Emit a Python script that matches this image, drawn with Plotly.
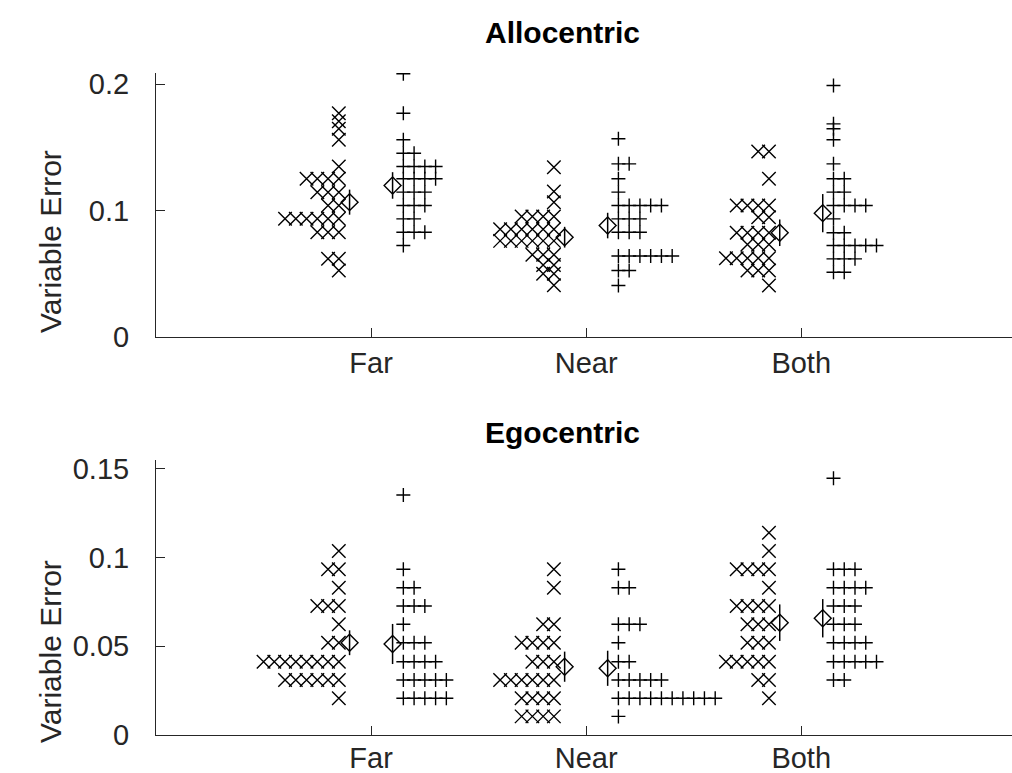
import plotly.graph_objects as go

# ---------------- data ----------------
categories = ["Far", "Near", "Both"]
cat_pos = [1, 2, 3]

# Allocentric, "x" group (left) and "+" group (right), per category
allo_far_x = [0.1769, 0.1706, 0.1646, 0.1559, 0.1348] + [0.1251]*4 + [0.1145]*3 + [0.1040]*2 + [0.0934]*6 + [0.0828]*3 + [0.0618]*2 + [0.0526]
allo_far_p = [0.2081, 0.1769, 0.1559] + [0.1453]*2 + [0.1348]*4 + [0.1251]*4 + [0.1145]*3 + [0.1040]*3 + [0.0934]*2 + [0.0828]*3 + [0.0723]
allo_near_x = [0.1342, 0.1150, 0.1065] + [0.0953]*4 + [0.0852]*6 + [0.0760]*6 + [0.0650]*3 + [0.0570]*2 + [0.0500]*2 + [0.0410]
allo_near_p = [0.1567] + [0.1369]*2 + [0.1251, 0.1145] + [0.1040]*5 + [0.0934]*3 + [0.0828]*3 + [0.0640]*6 + [0.0526]*2 + [0.0407]
allo_both_x = [0.1466]*2 + [0.1251] + [0.1040]*4 + [0.0947]*2 + [0.0824]*4 + [0.0731]*3 + [0.0623]*5 + [0.0526]*3 + [0.0407]
allo_both_p = [0.1988, 0.1685, 0.1646, 0.1559, 0.1369] + [0.1251]*2 + [0.1145]*2 + [0.1040]*4 + [0.0934] + [0.0824]*2 + [0.0723]*5 + [0.0618]*3 + [0.0512]*2

# Egocentric
ego_far_x = [0.1037] + [0.0934]*2 + [0.0830] + [0.0727]*3 + [0.0624] + [0.0520]*2 + [0.0413]*8 + [0.0310]*6 + [0.0207]
ego_far_p = [0.1353, 0.0934] + [0.0830]*2 + [0.0727]*3 + [0.0624] + [0.0520]*3 + [0.0413]*4 + [0.0310]*5 + [0.0207]*5
ego_near_x = [0.0934, 0.0830] + [0.0624]*2 + [0.0520]*4 + [0.0413]*3 + [0.0310]*6 + [0.0207]*4 + [0.0105]*4
ego_near_p = [0.0934] + [0.0830]*2 + [0.0624]*3 + [0.0520] + [0.0413]*2 + [0.0310]*5 + [0.0207]*10 + [0.0105]
ego_both_x = [0.1140, 0.1037] + [0.0934]*4 + [0.0830] + [0.0727]*4 + [0.0624]*3 + [0.0520]*3 + [0.0413]*5 + [0.0310]*2 + [0.0207]
ego_both_p = [0.1447] + [0.0934]*3 + [0.0830]*4 + [0.0727]*3 + [0.0624]*3 + [0.0520]*4 + [0.0413]*5 + [0.0310]*2

# means and standard errors read from the diamonds / bars
allo_mean_x = [0.1066, 0.0789, 0.0824]
allo_se_x = [0.0099, 0.0082, 0.0105]
allo_mean_p = [0.1198, 0.0881, 0.0979]
allo_se_p = [0.0105, 0.0101, 0.0151]
ego_mean_x = [0.0520, 0.0385, 0.0633]
ego_se_x = [0.0070, 0.0085, 0.0103]
ego_mean_p = [0.0513, 0.0376, 0.0658]
ego_se_p = [0.0113, 0.0099, 0.0108]

y_ticks_allo = [0, 0.1, 0.2]
y_ticks_ego = [0, 0.05, 0.1, 0.15]

# ---------------- helpers ----------------
GROUP_OFF = 0.15
MEAN_OFF = 0.10
STEP = 0.05
INK = "#000000"
AX = "#262626"


def swarm(values, center, direction):
    counts = {}
    xs = []
    for v in values:
        k = counts.get(v, 0)
        counts[v] = k + 1
        xs.append(center + direction * k * STEP)
    return xs


fig = go.Figure()


def add_panel(groups_x, groups_p, mean_x, se_x, mean_p, se_p, xa, ya):
    for i, pos in enumerate(cat_pos):
        vx = groups_x[i]
        vp = groups_p[i]
        fig.add_trace(go.Scatter(
            x=swarm(vx, pos - GROUP_OFF, -1), y=vx, mode="markers",
            marker=dict(symbol="x-thin", size=13.5, color=INK,
                        line=dict(width=1.4, color=INK)),
            xaxis=xa, yaxis=ya, hoverinfo="skip"))
        fig.add_trace(go.Scatter(
            x=swarm(vp, pos + GROUP_OFF, 1), y=vp, mode="markers",
            marker=dict(symbol="cross-thin", size=10, color=INK,
                        line=dict(width=1.4, color=INK)),
            xaxis=xa, yaxis=ya, hoverinfo="skip"))
    fig.add_trace(go.Scatter(
        x=[p - MEAN_OFF for p in cat_pos], y=mean_x, mode="markers",
        marker=dict(symbol="diamond-open", size=13, color=INK,
                    line=dict(width=1.4, color=INK)),
        error_y=dict(type="data", array=se_x, visible=True, width=0,
                     thickness=1.5, color=INK),
        xaxis=xa, yaxis=ya, hoverinfo="skip"))
    fig.add_trace(go.Scatter(
        x=[p + MEAN_OFF for p in cat_pos], y=mean_p, mode="markers",
        marker=dict(symbol="diamond-open", size=13, color=INK,
                    line=dict(width=1.4, color=INK)),
        error_y=dict(type="data", array=se_p, visible=True, width=0,
                     thickness=1.5, color=INK),
        xaxis=xa, yaxis=ya, hoverinfo="skip"))


add_panel([allo_far_x, allo_near_x, allo_both_x],
          [allo_far_p, allo_near_p, allo_both_p],
          allo_mean_x, allo_se_x, allo_mean_p, allo_se_p, "x", "y")
add_panel([ego_far_x, ego_near_x, ego_both_x],
          [ego_far_p, ego_near_p, ego_both_p],
          ego_mean_x, ego_se_x, ego_mean_p, ego_se_p, "x2", "y2")

FONT = "Liberation Sans, Arial, Helvetica, sans-serif"
TICK_SIZE = 29
LABEL_SIZE = 30

xcommon = dict(range=[0, 3.98], tickmode="array", tickvals=cat_pos,
               ticktext=categories, ticks="inside", ticklen=9,
               tickcolor=AX, tickwidth=1, showline=True, linecolor=AX,
               linewidth=1, showgrid=False, zeroline=False,
               tickfont=dict(size=TICK_SIZE, color=AX, family=FONT),
               automargin=False)
ycommon = dict(ticks="inside", ticklen=9, tickcolor=AX, tickwidth=1,
               showline=True, linecolor=AX, linewidth=1, showgrid=False,
               zeroline=False, tickmode="array",
               tickfont=dict(size=TICK_SIZE, color=AX, family=FONT),
               ticklabelstandoff=20, automargin=False)

fig.update_layout(
    width=1012, height=773,
    margin=dict(l=156, r=0, t=73, b=38, autoexpand=False),
    plot_bgcolor="white", paper_bgcolor="white",
    showlegend=False,
    font=dict(family=FONT, size=TICK_SIZE, color=AX),
    xaxis=dict(domain=[0, 1], anchor="y", ticklabelstandoff=0, **xcommon),
    xaxis2=dict(domain=[0, 1], anchor="y2", ticklabelstandoff=-3, **xcommon),
    yaxis=dict(domain=[0.6012, 1], anchor="x", range=[0, 0.2087],
               tickvals=y_ticks_allo, ticktext=["0", "0.1", "0.2"], **ycommon),
    yaxis2=dict(domain=[0, 0.4154], anchor="x2", range=[0, 0.155],
                tickvals=y_ticks_ego, ticktext=["0", "0.05", "0.1", "0.15"],
                **ycommon),
)

annos = [
    dict(text="<b>Allocentric</b>", x=(562 - 156) / 856, y=(735 - 32) / 662,
         font=dict(size=LABEL_SIZE, color="#000000", family=FONT)),
    dict(text="<b>Egocentric</b>", x=(562 - 156) / 856, y=(735 - 432) / 662,
         font=dict(size=LABEL_SIZE, color="#000000", family=FONT)),
    dict(text="Variable Error", x=(50 - 156) / 856, y=(735 - 242) / 662,
         textangle=-90, font=dict(size=LABEL_SIZE, color=AX, family=FONT)),
    dict(text="Variable Error", x=(50 - 156) / 856, y=(735 - 652) / 662,
         textangle=-90, font=dict(size=LABEL_SIZE, color=AX, family=FONT)),
]
for a in annos:
    fig.add_annotation(xref="paper", yref="paper", showarrow=False,
                       xanchor="center", yanchor="middle", **a)

fig.write_html(
    "out.html",
    config={"displayModeBar": False},
    post_script="document.body.style.margin='0';document.body.style.overflow='hidden';",
)
